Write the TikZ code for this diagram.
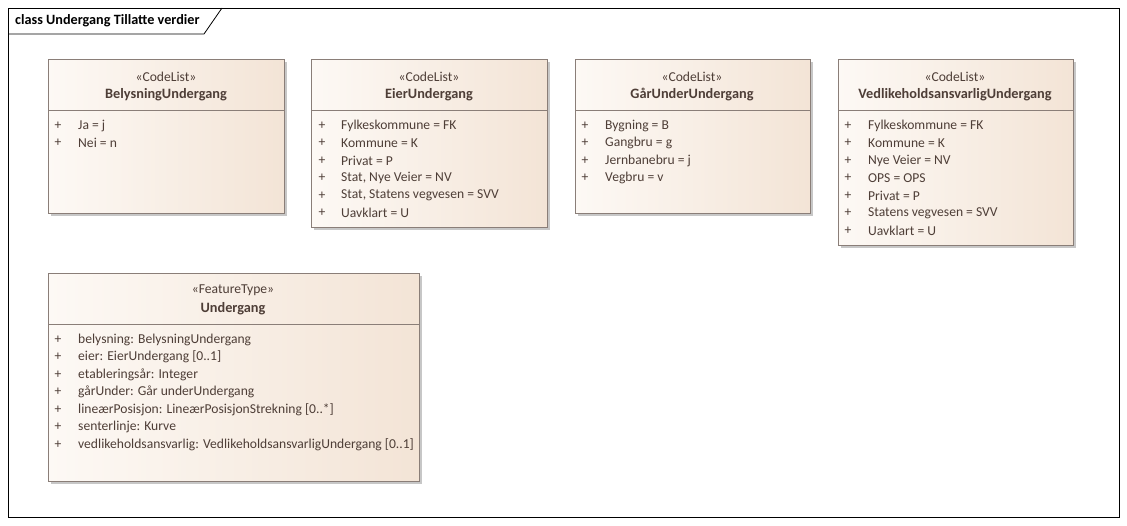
\documentclass[tikz,border=0pt]{standalone}
\usepackage{fontspec}
\setmainfont{Carlito}
\usetikzlibrary{positioning}
\definecolor{umltext}{HTML}{4E3E37}
\definecolor{umlline}{HTML}{8A7E78}
\definecolor{umlleft}{HTML}{FDF9F5}
\definecolor{umlright}{HTML}{F3E4D6}

\begin{document}
\begin{tikzpicture} [x=1pt, y=-1pt,
    txt/.style={inner sep=0, yshift=-1.5pt, text=umltext, font=\fontsize{13.6}{15}\selectfont},
    stereo/.style={txt},
    cname/.style={txt, font=\fontsize{14.3}{16}\selectfont\bfseries},
    attr/.style={txt, anchor=west},
    plus/.style={txt},
    shadow/.style={fill=black!22, draw=none},
    klass/.style={left color=umlleft, right color=umlright, draw=umlline, line width=1pt}]
  \useasboundingbox (0,0) rectangle (1127,525);
  \fill[white] (0,0) rectangle (1127,525);

  % frame and title tab
  \draw[line width=0.8pt] (8,8) rectangle (1119,517);
  \draw[line width=0.8pt] (8,34) -- (204,34) -- (222,8);
  \node[anchor=west, inner sep=0, yshift=-1pt, font=\fontsize{14.2}{16}\selectfont\bfseries] (title) at (15,20) {class Undergang Tillatte verdier};

  % BelysningUndergang
  \fill[shadow] (51,62) rectangle (287,216);
  \shade[klass] (48,59) rectangle (284,213);
  \draw[umlline, line width=1pt] (48,110) -- (284,110);
  \node[stereo] (belst) at (166,75) {«CodeList»};
  \node[cname] (bel) at (166,93) {BelysningUndergang};
  \foreach \t [count=\i from 0] in {Ja = j, Nei = n}
    {\node[plus] at (58,124+17.5*\i) {+};
     \node[attr] (bel\i) at (78,124+17.5*\i) {\t};}

  % EierUndergang
  \fill[shadow] (314,62) rectangle (550,230);
  \shade[klass] (311,59) rectangle (547,227);
  \draw[umlline, line width=1pt] (311,110) -- (547,110);
  \node[stereo] (eierst) at (429,75) {«CodeList»};
  \node[cname] (eier) at (429,93) {EierUndergang};
  \foreach \t [count=\i from 0] in {Fylkeskommune = FK, Kommune = K, Privat = P,
      {Stat, Nye Veier = NV}, {Stat, Statens vegvesen = SVV}, Uavklart = U}
    {\node[plus] at (322,124+17.5*\i) {+};
     \node[attr] (eier\i) at (341,124+17.5*\i) {\t};}

  % GaarUnderUndergang
  \fill[shadow] (578,62) rectangle (813,216);
  \shade[klass] (575,59) rectangle (810,213);
  \draw[umlline, line width=1pt] (575,110) -- (810,110);
  \node[stereo] (gaarst) at (692,75) {«CodeList»};
  \node[cname] (gaar) at (692,93) {GårUnderUndergang};
  \foreach \t [count=\i from 0] in {Bygning = B, Gangbru = g, Jernbanebru = j, Vegbru = v}
    {\node[plus] at (585,124+17.5*\i) {+};
     \node[attr] (gaar\i) at (605,124+17.5*\i) {\t};}

  % VedlikeholdsansvarligUndergang
  \fill[shadow] (841,62) rectangle (1076,248);
  \shade[klass] (838,59) rectangle (1073,245);
  \draw[umlline, line width=1pt] (838,110) -- (1073,110);
  \node[stereo] (vedlst) at (955,75) {«CodeList»};
  \node[cname] (vedl) at (955,93) {VedlikeholdsansvarligUndergang};
  \foreach \t [count=\i from 0] in {Fylkeskommune = FK, Kommune = K, Nye Veier = NV,
      OPS = OPS, Privat = P, Statens vegvesen = SVV, Uavklart = U}
    {\node[plus] at (848,124+17.5*\i) {+};
     \node[attr] (vedl\i) at (868,124+17.5*\i) {\t};}

  % Undergang
  \fill[shadow] (51,276) rectangle (422,484);
  \shade[klass] (48,273) rectangle (419,481);
  \draw[umlline, line width=1pt] (48,324) -- (419,324);
  \node[stereo] (ugst) at (233,289) {«FeatureType»};
  \node[cname] (ug) at (233,307) {Undergang};
  \foreach \t [count=\i from 0] in {belysning: BelysningUndergang, eier: EierUndergang [0..1],
      etableringsår: Integer, gårUnder: Går underUndergang,
      lineærPosisjon: LineærPosisjonStrekning [0..*], senterlinje: Kurve,
      vedlikeholdsansvarlig: VedlikeholdsansvarligUndergang [0..1]}
    {\node[plus] at (58,338+17.5*\i) {+};
     \node[attr] (ug\i) at (78,338+17.5*\i) {\t};}
\end{tikzpicture}
\end{document}
